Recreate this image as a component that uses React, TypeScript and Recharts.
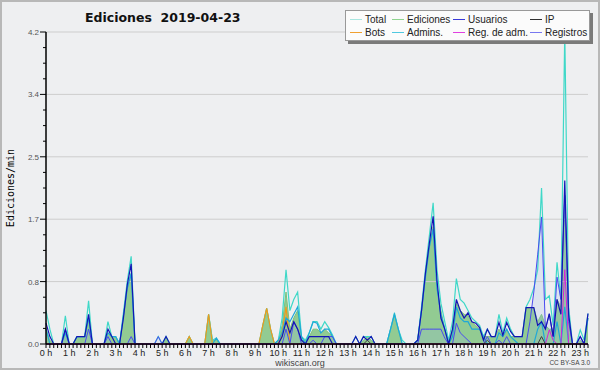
import { ComposedChart, Area, Line, XAxis, YAxis, ReferenceLine } from 'recharts';

// 10-minute slots, 0:00 .. 23:20
const hourLabels = [
  '0 h', '1 h', '2 h', '3 h', '4 h', '5 h', '6 h', '7 h', '8 h', '9 h', '10 h', '11 h',
  '12 h', '13 h', '14 h', '15 h', '16 h', '17 h', '18 h', '19 h', '20 h', '21 h', '22 h', '23 h',
];
const yTicks = [
  0, 0.21, 0.42, 0.63, 0.84, 1.05, 1.26, 1.47, 1.68, 1.89, 2.1, 2.31, 2.52, 2.73, 2.94, 3.15,
  3.36, 3.57, 3.78, 3.99, 4.2,
];
const yMajor = [0, 0.84, 1.68, 2.52, 3.36, 4.2];

// one row per hour, six 10-min values each
const total = [
  0.45, 0.2, 0, 0, 0, 0.38,
  0, 0, 0.1, 0.1, 0.1, 0.58,
  0, 0, 0, 0, 0.3, 0.1,
  0.1, 0, 0.42, 0.85, 1.18, 0,
  0, 0, 0, 0, 0, 0.1,
  0, 0.1, 0, 0, 0, 0,
  0, 0.1, 0, 0, 0, 0,
  0.4, 0.05, 0.08, 0, 0, 0,
  0, 0, 0, 0, 0, 0,
  0, 0, 0.25, 0.48, 0.2, 0,
  0.05, 0.35, 1.0, 0.45, 0.6, 0.7,
  0.1, 0.05, 0.15, 0.3, 0.3, 0.2,
  0.3, 0.22, 0.12, 0, 0, 0,
  0, 0, 0.1, 0, 0.1, 0.1,
  0.1, 0, 0, 0, 0, 0.2,
  0.42, 0.2, 0.05, 0, 0, 0,
  0.05, 0.5, 1.0, 1.45, 1.9, 1.0,
  0.55, 0.3, 0.05, 0.3, 0.88, 0.6,
  0.55, 0.45, 0.35, 0.3, 0.25, 0.1,
  0.2, 0.1, 0.1, 0.4, 0.15, 0.35,
  0.2, 0.1, 0.1, 0.1, 0.5, 0.6,
  0.75, 1.0, 2.1, 0.6, 0.65, 0.25,
  1.1, 0.6, 4.2, 0.5, 0, 0,
  0.19, 0.05, 0.41,
];
const ediciones = [
  0.2, 0.05, 0, 0, 0, 0.18,
  0, 0, 0.1, 0.1, 0.1, 0.35,
  0, 0, 0, 0, 0.15, 0.1,
  0.1, 0, 0.38, 0.75, 0.95, 0,
  0, 0, 0, 0, 0, 0,
  0, 0.1, 0, 0, 0, 0,
  0, 0.1, 0, 0, 0, 0,
  0.4, 0.05, 0.05, 0, 0, 0,
  0, 0, 0, 0, 0, 0,
  0, 0, 0.25, 0.48, 0.2, 0,
  0.05, 0.25, 0.7, 0.2, 0.35, 0.45,
  0.05, 0.05, 0.1, 0.2, 0.2, 0.15,
  0.2, 0.15, 0.1, 0, 0, 0,
  0, 0, 0, 0, 0.05, 0.1,
  0.05, 0, 0, 0, 0, 0.2,
  0.4, 0.2, 0, 0, 0, 0,
  0.05, 0.45, 0.9, 1.3, 1.58, 0.75,
  0.45, 0.2, 0.02, 0.2, 0.55, 0.45,
  0.4, 0.38, 0.3, 0.25, 0.2, 0.1,
  0.1, 0.1, 0.1, 0.2, 0.1, 0.2,
  0.1, 0.1, 0.1, 0.1, 0.49, 0.49,
  0.49, 0.3, 0.4, 0.25, 0.2, 0.2,
  0.6, 0.5, 2.0, 0.3, 0, 0,
  0.05, 0, 0.35,
];
const usuarios = [
  0.28, 0.1, 0, 0, 0, 0.2,
  0, 0, 0.1, 0.1, 0.1, 0.4,
  0, 0, 0, 0, 0.2, 0.1,
  0, 0, 0.35, 0.8, 1.08, 0,
  0, 0, 0, 0, 0, 0,
  0, 0.1, 0, 0, 0, 0,
  0, 0, 0, 0, 0, 0,
  0, 0, 0, 0, 0, 0,
  0, 0, 0, 0, 0, 0,
  0, 0, 0, 0, 0, 0,
  0, 0.1, 0.3, 0.15, 0.3, 0.2,
  0.05, 0, 0.1, 0.1, 0.1, 0.1,
  0.1, 0.1, 0, 0, 0, 0,
  0, 0, 0.1, 0, 0.1, 0.05,
  0.1, 0, 0, 0, 0, 0,
  0, 0, 0, 0, 0, 0,
  0.05, 0.45, 0.95, 1.35, 1.72, 0.85,
  0.35, 0.2, 0, 0.2, 0.6, 0.45,
  0.35, 0.42, 0.3, 0.28, 0.22, 0.05,
  0.2, 0.1, 0.1, 0.29, 0.12, 0.29,
  0.17, 0.1, 0.1, 0.1, 0.49, 0.49,
  0.49, 0.25, 0.3, 0.2, 0.41, 0.1,
  0.6, 0.4, 2.2, 0.4, 0, 0,
  0.1, 0, 0.41,
];
const ip = [
  0, 0, 0, 0, 0, 0,
  0, 0, 0, 0, 0, 0,
  0, 0, 0, 0, 0, 0,
  0, 0, 0, 0, 0, 0,
  0, 0, 0, 0, 0, 0,
  0, 0, 0, 0, 0, 0,
  0, 0, 0, 0, 0, 0,
  0, 0, 0, 0, 0, 0,
  0, 0, 0, 0, 0, 0,
  0, 0, 0, 0, 0, 0,
  0, 0, 0, 0, 0, 0,
  0, 0, 0, 0, 0, 0,
  0, 0, 0, 0, 0, 0,
  0, 0, 0, 0, 0, 0.05,
  0, 0, 0, 0, 0, 0,
  0, 0, 0, 0, 0, 0,
  0, 0, 0, 0, 0, 0,
  0, 0, 0, 0, 0, 0,
  0, 0, 0, 0, 0, 0,
  0.05, 0, 0, 0, 0, 0,
  0, 0, 0, 0, 0, 0,
  0, 0, 0.1, 0, 0, 0,
  0, 0, 0, 0, 0, 0,
  0, 0, 0,
];
const bots = [
  0, 0, 0, 0, 0, 0,
  0, 0, 0, 0, 0, 0,
  0, 0, 0, 0, 0, 0,
  0, 0, 0, 0, 0, 0,
  0, 0, 0, 0, 0, 0,
  0, 0, 0, 0, 0, 0,
  0, 0.1, 0, 0, 0, 0,
  0.4, 0, 0, 0, 0, 0,
  0, 0, 0, 0, 0, 0,
  0, 0, 0.25, 0.48, 0.2, 0,
  0, 0.15, 0.5, 0, 0, 0,
  0, 0, 0, 0, 0, 0,
  0, 0, 0, 0, 0, 0,
  0, 0, 0, 0, 0, 0,
  0, 0, 0, 0, 0, 0,
  0, 0, 0, 0, 0, 0,
  0, 0, 0, 0, 0, 0,
  0, 0, 0, 0, 0, 0,
  0, 0, 0, 0, 0, 0,
  0, 0, 0, 0, 0, 0,
  0, 0, 0, 0, 0, 0,
  0, 0, 0, 0, 0, 0,
  0, 0, 0, 0, 0, 0,
  0, 0, 0,
];
const admins = [
  0.2, 0, 0, 0, 0, 0.15,
  0, 0, 0.1, 0.1, 0.1, 0.35,
  0, 0, 0, 0, 0.15, 0.1,
  0.1, 0, 0.38, 0.75, 0.95, 0,
  0, 0, 0, 0, 0, 0,
  0, 0, 0, 0, 0, 0,
  0, 0, 0, 0, 0, 0,
  0, 0, 0.08, 0, 0, 0,
  0, 0, 0, 0, 0, 0,
  0, 0, 0, 0, 0, 0,
  0.05, 0.15, 0.35, 0.3, 0.4, 0.5,
  0.1, 0, 0.15, 0.3, 0.28, 0.15,
  0.2, 0.2, 0.1, 0, 0, 0,
  0, 0, 0, 0, 0, 0,
  0, 0, 0, 0, 0, 0.2,
  0.4, 0.2, 0, 0, 0, 0,
  0.05, 0.45, 0.9, 1.3, 1.55, 0.75,
  0.4, 0.2, 0, 0.1, 0.5, 0.35,
  0.3, 0.3, 0.2, 0.2, 0.2, 0.1,
  0, 0, 0, 0.15, 0.1, 0.2,
  0.1, 0.05, 0, 0, 0, 0,
  0, 0.2, 0.3, 0, 0, 0,
  0.3, 0, 0.5, 0, 0, 0,
  0, 0, 0.35,
];
const regAdm = [
  0, 0, 0, 0, 0, 0,
  0, 0, 0, 0, 0, 0,
  0, 0, 0, 0, 0, 0,
  0, 0, 0, 0, 0, 0,
  0, 0, 0, 0, 0, 0,
  0, 0, 0, 0, 0, 0,
  0, 0, 0, 0, 0, 0,
  0, 0, 0, 0, 0, 0,
  0, 0, 0, 0, 0, 0,
  0, 0, 0, 0, 0, 0,
  0, 0, 0, 0, 0, 0,
  0, 0, 0, 0, 0, 0,
  0, 0, 0, 0, 0, 0,
  0, 0, 0, 0, 0, 0,
  0, 0, 0, 0, 0, 0,
  0, 0, 0, 0, 0, 0,
  0, 0, 0, 0, 0, 0,
  0, 0, 0, 0, 0, 0,
  0, 0, 0, 0, 0, 0,
  0, 0, 0, 0, 0, 0,
  0, 0, 0, 0, 0, 0,
  0, 0, 0, 0, 0.19, 0.05,
  0, 0, 1.0, 0, 0, 0,
  0, 0, 0,
];
const registros = [
  0, 0, 0, 0, 0, 0.2,
  0, 0, 0, 0, 0, 0.2,
  0, 0, 0, 0, 0.1, 0,
  0, 0, 0, 0, 0.1, 0,
  0, 0, 0, 0, 0, 0.1,
  0, 0, 0, 0, 0, 0,
  0, 0, 0, 0, 0, 0,
  0, 0, 0, 0, 0, 0,
  0, 0, 0, 0, 0, 0,
  0, 0, 0, 0, 0, 0,
  0, 0, 0.2, 0, 0.3, 0.2,
  0, 0, 0, 0.05, 0, 0,
  0.1, 0.1, 0.1, 0, 0, 0,
  0, 0, 0, 0, 0, 0,
  0, 0, 0, 0, 0, 0,
  0, 0, 0, 0, 0, 0,
  0, 0.2, 0.2, 0.2, 0.2, 0.2,
  0.2, 0.08, 0, 0, 0.28, 0.15,
  0.1, 0.05, 0, 0, 0, 0,
  0.1, 0, 0, 0.05, 0, 0.1,
  0, 0, 0, 0, 0, 0.3,
  0.7, 1.2, 1.71, 0.2, 0.4, 0.1,
  0.9, 0.6, 2.0, 0.3, 0, 0,
  0.1, 0, 0,
];

const data = total.map((t, i) => ({
  slot: i,
  total: t,
  ediciones: ediciones[i],
  usuarios: usuarios[i],
  ip: ip[i],
  bots: bots[i],
  admins: admins[i],
  regAdm: regAdm[i],
  registros: registros[i],
}));
const xTicks = data.map((d) => d.slot);

const COLORS = {
  total: '#3fd8c8',
  ediciones: '#92cb92',
  usuarios: '#1414b4',
  ip: '#404040',
  bots: '#f09a1a',
  admins: '#1fa8d8',
  regAdm: '#d822d8',
  registros: '#4a4af0',
};

const legendRows = [
  [
    { name: 'Total', color: '#a8e6e0' },
    { name: 'Ediciones', color: '#8fd48f' },
    { name: 'Usuarios', color: '#3a3ad8' },
    { name: 'IP', color: '#303030' },
  ],
  [
    { name: 'Bots', color: '#f0a030' },
    { name: 'Admins.', color: '#50c8e0' },
    { name: 'Reg. de adm.', color: '#e040e0' },
    { name: 'Registros', color: '#7878f0' },
  ],
];
const legendCols = [4, 46, 107, 184];

const FONT = '"Liberation Sans", Arial, sans-serif';

function XTick({ x, y, payload }: any) {
  const i = payload.value;
  return (
    <g>
      <line x1={x} x2={x} y1={y} y2={y + 4} stroke="#000" strokeWidth={1} />
      {i % 6 === 0 && (
        <text x={x} y={y + 12} textAnchor="middle" fontSize={9} fontFamily={FONT} fill="#222">
          {hourLabels[i / 6]}
        </text>
      )}
    </g>
  );
}

function YTick({ x, y, payload }: any) {
  const major = yMajor.includes(payload.value);
  return (
    <g>
      <line x1={x - (major ? 6 : 3)} x2={x} y1={y} y2={y} stroke="#000" strokeWidth={1} />
      {major && (
        <text x={x - 7} y={y + 3} textAnchor="end" fontSize={8} fontFamily={FONT} fill="#555">
          {payload.value.toFixed(1)}
        </text>
      )}
    </g>
  );
}

export default function App() {
  return (
    <div
      style={{
        position: 'absolute',
        left: 0,
        top: 0,
        width: 600,
        height: 370,
        background: '#eeeff1',
        overflow: 'hidden',
        fontFamily: FONT,
      }}
    >
      <ComposedChart width={600} height={370} data={data} margin={{ top: 32, right: 12, bottom: 0, left: 0 }}>
        {yMajor.slice(1).map((v) => (
          <ReferenceLine key={v} y={v} stroke="#cdcdcd" strokeWidth={1} />
        ))}
        <XAxis
          dataKey="slot"
          type="number"
          domain={[0, 140]}
          ticks={xTicks}
          interval={0}
          height={26}
          tickSize={0}
          tickMargin={0}
          tickLine={false}
          axisLine={{ stroke: '#000', strokeWidth: 1.5 }}
          tick={<XTick />}
        />
        <YAxis
          type="number"
          domain={[0, 4.2]}
          ticks={yTicks}
          interval={0}
          width={46}
          tickSize={0}
          tickMargin={0}
          tickLine={false}
          axisLine={{ stroke: '#000', strokeWidth: 1.5 }}
          tick={<YTick />}
        />
        <Area
          type="linear"
          dataKey="ediciones"
          fill={COLORS.ediciones}
          fillOpacity={1}
          stroke="#7cc27c"
          strokeWidth={1}
          isAnimationActive={false}
        />
        <Area
          type="linear"
          dataKey="registros"
          fill="#9cb4ec"
          fillOpacity={0.2}
          stroke="none"
          isAnimationActive={false}
        />
        <Line type="linear" dataKey="total" stroke={COLORS.total} strokeWidth={1.2} dot={false} activeDot={false} isAnimationActive={false} />
        <Line type="linear" dataKey="bots" stroke={COLORS.bots} strokeWidth={1.2} dot={false} activeDot={false} isAnimationActive={false} />
        <Line type="linear" dataKey="admins" stroke={COLORS.admins} strokeWidth={1.2} dot={false} activeDot={false} isAnimationActive={false} />
        <Line type="linear" dataKey="registros" stroke={COLORS.registros} strokeWidth={1} dot={false} activeDot={false} isAnimationActive={false} />
        <Line type="linear" dataKey="usuarios" stroke={COLORS.usuarios} strokeWidth={1.2} dot={false} activeDot={false} isAnimationActive={false} />
        <Line type="linear" dataKey="ip" stroke={COLORS.ip} strokeWidth={1} dot={false} activeDot={false} isAnimationActive={false} />
        <Line type="linear" dataKey="regAdm" stroke={COLORS.regAdm} strokeWidth={1} dot={false} activeDot={false} isAnimationActive={false} />
      </ComposedChart>

      {/* title */}
      <div
        style={{
          position: 'absolute',
          left: 85,
          top: 10,
          fontFamily: '"DejaVu Sans", sans-serif',
          fontSize: 12.5,
          fontWeight: 'bold',
          color: '#111',
          whiteSpace: 'pre',
          lineHeight: '16px',
        }}
      >
        {'Ediciones  2019-04-23'}
      </div>

      {/* y axis label */}
      <div
        style={{
          position: 'absolute',
          left: 10,
          top: 188,
          fontFamily: '"DejaVu Sans Mono", monospace',
          fontSize: 10,
          color: '#000',
          whiteSpace: 'nowrap',
          transform: 'translate(-50%, -50%) rotate(-90deg)',
        }}
      >
        Ediciones/min
      </div>

      {/* legend */}
      <div
        style={{
          position: 'absolute',
          left: 345,
          top: 10,
          width: 245,
          height: 31,
          background: '#fbfbfb',
          border: '1px solid #999',
          boxShadow: '3px 3px 0 #7a7a7a',
          boxSizing: 'border-box',
        }}
      >
        {legendRows.map((row, r) =>
          row.map((item, c) => (
            <div
              key={item.name}
              style={{
                position: 'absolute',
                left: legendCols[c],
                top: 2 + r * 13,
                height: 12,
                display: 'flex',
                alignItems: 'center',
                fontSize: 10,
                color: '#222',
                whiteSpace: 'nowrap',
              }}
            >
              <span style={{ display: 'inline-block', width: 12, height: 1, background: item.color, marginRight: 3 }} />
              {item.name}
            </div>
          )),
        )}
      </div>

      <div
        style={{
          position: 'absolute',
          left: 0,
          width: 600,
          top: 358,
          textAlign: 'center',
          fontSize: 9,
          lineHeight: '10px',
          color: '#444',
        }}
      >
        wikiscan.org
      </div>
      <div style={{ position: 'absolute', right: 10, top: 359, fontSize: 6.5, lineHeight: '8px', color: '#444' }}>
        CC BY-SA 3.0
      </div>

      <div
        style={{
          position: 'absolute',
          left: 0,
          top: 0,
          width: 600,
          height: 370,
          border: '2px solid #b8b8b8',
          boxSizing: 'border-box',
          pointerEvents: 'none',
        }}
      />
    </div>
  );
}
